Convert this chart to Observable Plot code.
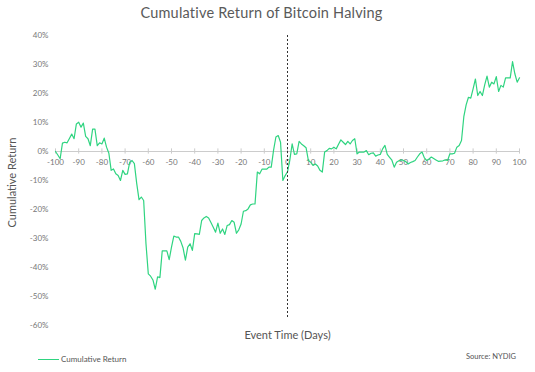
<!DOCTYPE html>
<html>
<head>
<meta charset="utf-8">
<script src="https://cdn.jsdelivr.net/npm/d3@7"></script>
<script src="https://cdn.jsdelivr.net/npm/@observablehq/plot@0.6"></script>
<style>
  html, body { margin: 0; padding: 0; background: #fff; }
  body { width: 535px; height: 372px; position: relative; overflow: hidden; font-family: Lato, "Open Sans", sans-serif; }
  #title { position: absolute; left: 0; top: 6px; width: 523px; text-align: center; font-size: 14.5px; line-height: 14.5px; color: #5a5a5a; letter-spacing: 0.2px; }
  #chart { position: absolute; left: 0; top: 28px; }
  #legend { position: absolute; left: 38px; top: 354px; font-size: 8px; color: #555; display: flex; align-items: center; }
  #legend .sw { display: inline-block; width: 21px; height: 1px; background: #2fd480; margin-right: 2px; }
  #source { position: absolute; left: 466px; top: 352px; font-size: 7.5px; color: #555; }
</style>
</head>
<body>
<div id="title">Cumulative Return of Bitcoin Halving</div>
<div id="chart"></div>
<div id="legend"><span class="sw"></span><span>Cumulative Return</span></div>
<div id="source">Source: NYDIG</div>
<script>
const days = d3.range(-100, 101);
const returns = [
  0, -1.2, -2.5, 2.9, 3.2, 3.0, 4.5, 6.0, 4.4, 9.5,
  10.1, 8.4, 9.8, 5.2, 4.4, 2.0, 7.7, 7.7, 2.0, 3.0,
  2.6, 4.6, 1.5, -0.6, -6.5, -6.0, -7.7, -8.3, -10.0, -6.5,
  -7.9, -7.7, -3.7, -3.1, -4.2, -11.0, -16.6, -15.7, -16.9, -31.8,
  -42.2, -43.0, -44.3, -47.5, -43.2, -43.5, -34.3, -34.3, -34.3, -37.3,
  -33.0, -29.2, -29.5, -29.5, -31.0, -33.3, -37.5, -33.0, -31.8, -34.1,
  -28.3, -28.4, -28.6, -23.8, -22.9, -22.4, -22.9, -24.5, -26.1, -27.8,
  -24.7, -28.2, -26.7, -28.6, -25.5, -25.2, -23.8, -24.4, -28.2, -27.0,
  -25.0, -20.6, -20.4, -19.8, -18.4, -18.1, -18.1, -7.1, -7.7, -6.1,
  -6.1, -6.1, -5.4, -5.4, 0.5, 5.0, 5.5, 3.2, -10.0, -8.3,
  -7.0, -3.0, 2.6, -1.0, -0.8, 3.5, 2.6, 2.0, 1.3, -3.1,
  -3.7, -4.8, -4.3, -5.0, -6.5, -7.1, -0.2, 0.3, 1.1, 0.9,
  1.5, 0.9, 2.5, 4.0, 3.2, 2.4, 3.5, 2.6, 3.8, 4.4,
  -0.8, -0.2, -0.2, -0.2, 0.3, -1.1, -0.6, -0.5, -1.6, -1.2,
  -1.0, 0.9, 2.1, -1.0, -2.0, -3.0, -5.4, -3.7, -3.2, -2.9,
  -3.1, -3.5, -4.3, -3.8, -3.5, -3.1, -1.9, -0.8, -0.2, -2.2,
  -3.1, -2.6, -1.9, -2.4, -2.9, -3.4, -3.3, -3.2, -2.9, -3.1,
  -0.8, -0.8, -0.6, 1.5, 2.1, 3.8, 12.0, 16.1, 18.7, 18.4,
  21.6, 25.0, 19.3, 20.7, 19.3, 23.0, 26.0, 22.2, 23.9, 23.3,
  25.8, 20.7, 22.8, 22.2, 25.4, 25.4, 25.4, 31.0, 26.8, 23.9, 25.4
];
const xTicks = [-100, -90, -80, -70, -60, -50, -40, -30, -20, -10, 0, 10, 20, 30, 40, 50, 60, 70, 80, 90, 100];
const yTicks = [40, 30, 20, 10, 0, -10, -20, -30, -40, -50, -60];
const eventDay = [0];

const data = days.map((d, i) => ({day: d, ret: returns[i]}));

const chart = Plot.plot({
  width: 535,
  height: 322,
  marginLeft: 55,
  marginRight: 16,
  marginTop: 7,
  marginBottom: 25,
  style: {fontFamily: "Lato, 'Open Sans', sans-serif", background: "transparent"},
  x: {domain: [-100, 100], axis: null},
  y: {domain: [-60, 40], axis: null},
  marks: [
    Plot.axisY({ticks: yTicks, tickFormat: d => `${d}%`, tickSize: 0, tickPadding: 7, fontSize: 8, color: "#777", label: null}),
    Plot.ruleY([0], {stroke: "#ccc", strokeWidth: 1}),
    Plot.ruleX(xTicks, {x: d => d, y1: -0.9, y2: 0.9, stroke: "#ccc", strokeWidth: 1}),
    Plot.text(xTicks, {x: d => d, y: 0, text: d => `${d}`, dy: 11, fontSize: 8, fill: "#777"}),
    Plot.line(data, {x: "day", y: "ret", stroke: "#2fd480", strokeWidth: 1.2}),
    Plot.ruleX(eventDay, {x: d => d, y1: 40, y2: -57.5, stroke: "#333", strokeWidth: 1, strokeDasharray: "2,2"}),
    Plot.text(["Cumulative Return"], {frameAnchor: "left", textAnchor: "middle", lineAnchor: "middle", rotate: -90, dx: -43, dy: 2, fontSize: 11, fill: "#555"}),
    Plot.text(["Event Time (Days)"], {frameAnchor: "bottom", textAnchor: "middle", lineAnchor: "middle", dy: 10, fontSize: 11, fill: "#555"})
  ]
});
document.getElementById("chart").appendChild(chart);
</script>
</body>
</html>
